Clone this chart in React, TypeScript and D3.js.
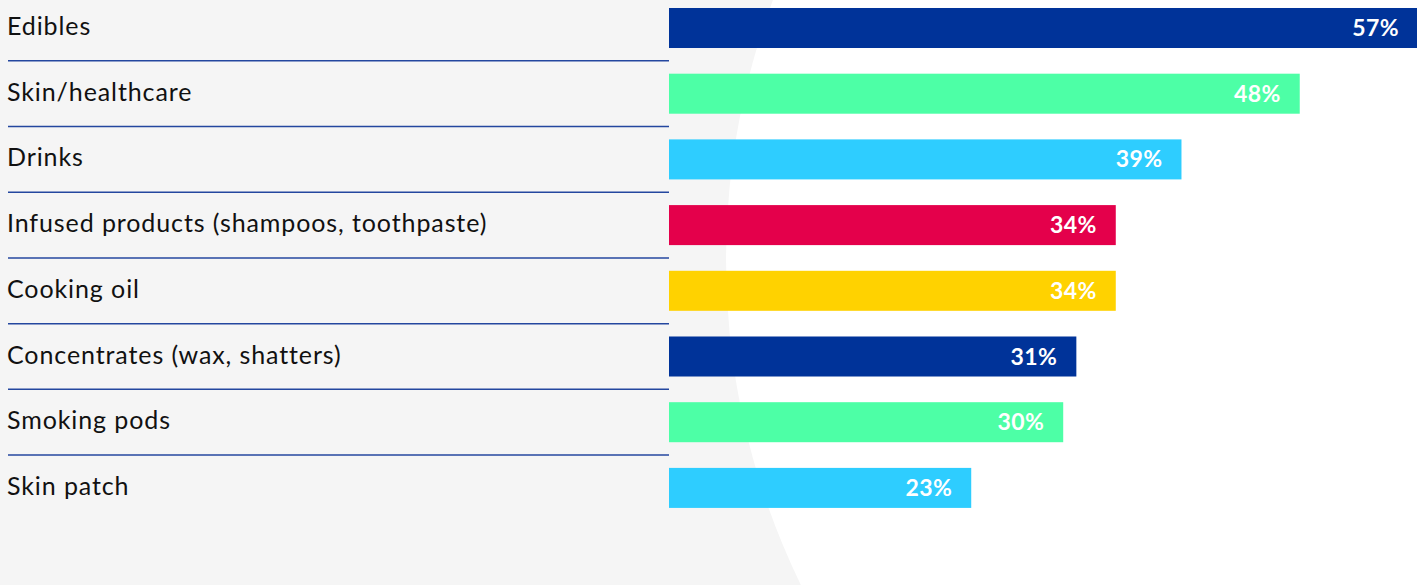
import React, { useEffect, useRef } from "react";
import * as d3 from "d3";

const categories = [
  "Edibles",
  "Skin/healthcare",
  "Drinks",
  "Infused products (shampoos, toothpaste)",
  "Cooking oil",
  "Concentrates (wax, shatters)",
  "Smoking pods",
  "Skin patch",
];
const values = [57, 48, 39, 34, 34, 31, 30, 23];
const barColors = [
  "#003399",
  "#4dffa6",
  "#2ecdff",
  "#e4004b",
  "#ffd200",
  "#003399",
  "#4dffa6",
  "#2ecdff",
];

const App = () => {
  const svgRef = useRef<SVGSVGElement>(null);
  const width = 1417;
  const height = 585;

  useEffect(() => {
    const svg = d3.select(svgRef.current);
    svg.selectAll("*").remove();

    const data = categories.map((name, i) => ({ name, value: values[i], color: barColors[i] }));

    // background: light grey with a big white circle cut in from the right
    svg.append("rect").attr("width", width).attr("height", height).attr("fill", "#f5f5f5");
    svg.append("circle").attr("cx", 1469).attr("cy", 260).attr("r", 743).attr("fill", "#ffffff");

    const x = d3.scaleLinear().domain([0, 57]).range([669, 1418]);

    const y = d3
      .scaleBand()
      .domain(categories)
      .range([-4.85, 520.75])
      .paddingInner(0.391)
      .paddingOuter(0.1955);

    const bw = y.bandwidth();
    const gap = (y.step() - bw) / 2;

    // separators between rows
    svg
      .selectAll(".sep")
      .data(data.slice(0, -1))
      .enter()
      .append("line")
      .attr("class", "sep")
      .attr("x1", 8)
      .attr("x2", x(0))
      .attr("y1", (d) => y(d.name)! + bw + gap)
      .attr("y2", (d) => y(d.name)! + bw + gap)
      .attr("stroke", "#24479f")
      .attr("stroke-width", 1.5);

    // category labels
    svg
      .selectAll(".cat")
      .data(data)
      .enter()
      .append("text")
      .attr("class", "cat")
      .attr("x", 7)
      .attr("y", (d) => y(d.name)! + bw / 2 + 7)
      .attr("font-family", "Lato, sans-serif")
      .attr("font-size", 25)
      .attr("letter-spacing", 0.9)
      .attr("fill", "#111")
      .text((d) => d.name);

    // bars
    svg
      .selectAll(".bar")
      .data(data)
      .enter()
      .append("rect")
      .attr("class", "bar")
      .attr("x", x(0))
      .attr("y", (d) => y(d.name)!)
      .attr("width", (d) => x(d.value) - x(0))
      .attr("height", bw)
      .attr("fill", (d) => d.color);

    // value labels
    svg
      .selectAll(".val")
      .data(data)
      .enter()
      .append("text")
      .attr("class", "val")
      .attr("x", (d) => x(d.value) - 19)
      .attr("y", (d) => y(d.name)! + bw / 2 + 8)
      .attr("text-anchor", "end")
      .attr("font-family", "Lato, sans-serif")
      .attr("font-weight", "bold")
      .attr("font-size", 23)
      .attr("letter-spacing", 0.4)
      .attr("fill", "#ffffff")
      .text((d) => `${d.value}%`);
  }, []);

  return (
    <svg
      ref={svgRef}
      width={width}
      height={height}
      style={{ position: "absolute", left: 0, top: 0, display: "block" }}
    ></svg>
  );
};

export default App;
